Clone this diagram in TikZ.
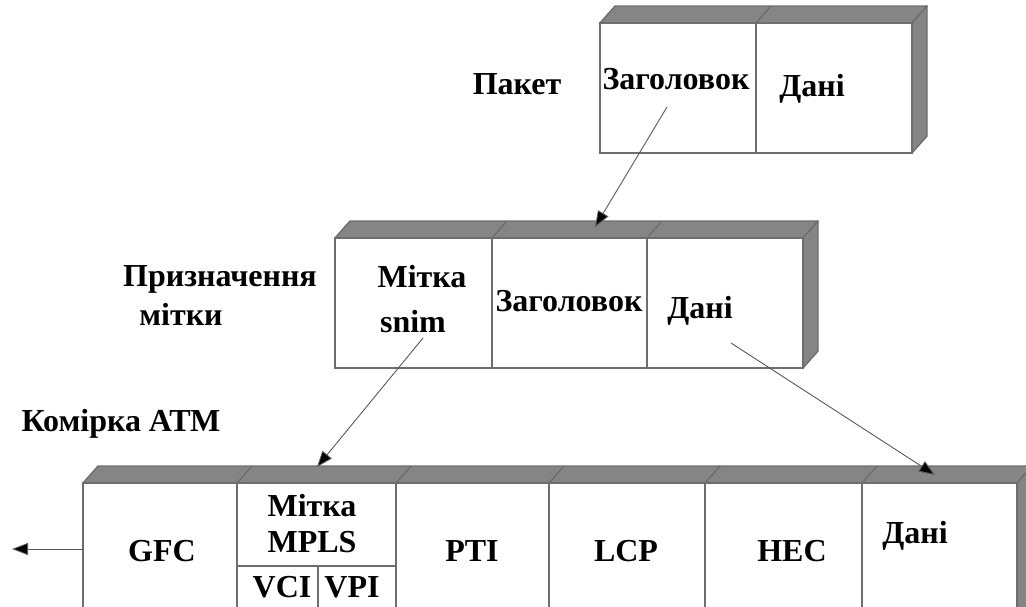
\documentclass[tikz,border=0pt]{standalone}
\usepackage{fontspec}
\setmainfont{Liberation Serif}
\usetikzlibrary{arrows.meta}
\definecolor{sidegray}{HTML}{858585}
\definecolor{edgegray}{HTML}{6E6E6E}

\begin{document}
\begin{tikzpicture}[x=0.5pt, y=-0.5pt]
  \tikzset{
    face/.style={fill=sidegray, draw=edgegray, line width=0.7pt, line join=round},
    cell/.style={fill=white, draw=edgegray, line width=0.7pt},
    sep/.style={draw=edgegray, line width=0.7pt},
    lbl/.style={font=\fontsize{16}{18}\selectfont\bfseries, inner sep=0pt, anchor=base},
    arr/.style={draw=black!65, line width=0.45pt, -{Triangle[length=8pt, width=6pt, fill=black]}}
  }

  \useasboundingbox (0,0) rectangle (1026,606);
  \clip (0,0) rectangle (1026,606);

  % packet box (front face + top and right faces)
  \fill[face] (600,23) -- (615,6) -- (927,6) -- (912,23) -- cycle;
  \fill[face] (912,23) -- (927,6) -- (927,136) -- (912,153) -- cycle;
  \draw[cell] (600,23) rectangle (912,153);
  \draw[sep] (756,23) -- (756,153);
  \draw[sep] (756,23) -- (771,6);

  % labelled packet box
  \fill[face] (335,238) -- (350,221) -- (818,221) -- (803,238) -- cycle;
  \fill[face] (803,238) -- (818,221) -- (818,351) -- (803,368) -- cycle;
  \draw[cell] (335,238) rectangle (803,368);
  \foreach \x in {492,647} {
    \draw[sep] (\x,238) -- (\x,368);
    \draw[sep] (\x,238) -- ++(15,-17);
  }

  % ATM cell (runs off the bottom and right edges)
  \fill[face] (83,483) -- (98,466) -- (1032,466) -- (1017,483) -- cycle;
  \fill[face] (1017,483) -- (1032,466) -- (1032,640) -- (1017,640) -- cycle;
  \draw[cell] (83,483) rectangle (1017,640);
  \foreach \x in {237,396,549,705,862} {
    \draw[sep] (\x,483) -- (\x,640);
    \draw[sep] (\x,483) -- ++(15,-17);
  }
  \draw[sep] (237,566) -- (396,566);
  \draw[sep] (318,566) -- (318,640);

  % texts
  \node[lbl] (paket) at (517,94) {Пакет};
  \node[lbl] (zag1) at (676,89) {Заголовок};
  \node[lbl] (dani1) at (812,96) {Дані};

  \node[lbl] (prizn) at (220,286) {Призначення};
  \node[lbl] (mitki) at (181,325) {мітки};
  \node[lbl] (mitka1) at (422,287) {Мітка};
  \node[lbl] (snim) at (413,332) {snim};
  \node[lbl] (zag2) at (569,311) {Заголовок};
  \node[lbl] (dani2) at (700,318) {Дані};

  \node[lbl] (komirka) at (121,431) {Комірка АТМ};
  \node[lbl] (gfc) at (162,561) {GFC};
  \node[lbl] (mitka2) at (312,516) {Мітка};
  \node[lbl] (mpls) at (312,552) {MPLS};
  \node[lbl] (vci) at (282,597) {VCI};
  \node[lbl] (vpi) at (352,597) {VPI};
  \node[lbl] (pti) at (472,561) {PTI};
  \node[lbl] (lcp) at (626,561) {LCP};
  \node[lbl] (hec) at (792,561) {HEC};
  \node[lbl] (dani3) at (915,543) {Дані};

  % arrow ends
  \coordinate (zagFrom) at (667,107);   % under header of packet
  \coordinate (zagTo) at (595,227);     % top of labelled box
  \coordinate (mitFrom) at (423,338);   % under label
  \coordinate (mitTo) at (317,467);     % top of MPLS field
  \coordinate (datFrom) at (731,343);   % under data
  \coordinate (datTo) at (935,475);     % top of data field
  \coordinate (gfcFrom) at (83,549);    % left side of GFC
  \coordinate (gfcTo) at (12,549);

  % arrows
  \draw[arr] (zagFrom) -- (zagTo);
  \draw[arr] (mitFrom) -- (mitTo);
  \draw[arr] (datFrom) -- (datTo);
  \draw[arr] (gfcFrom) -- (gfcTo);
\end{tikzpicture}
\end{document}
